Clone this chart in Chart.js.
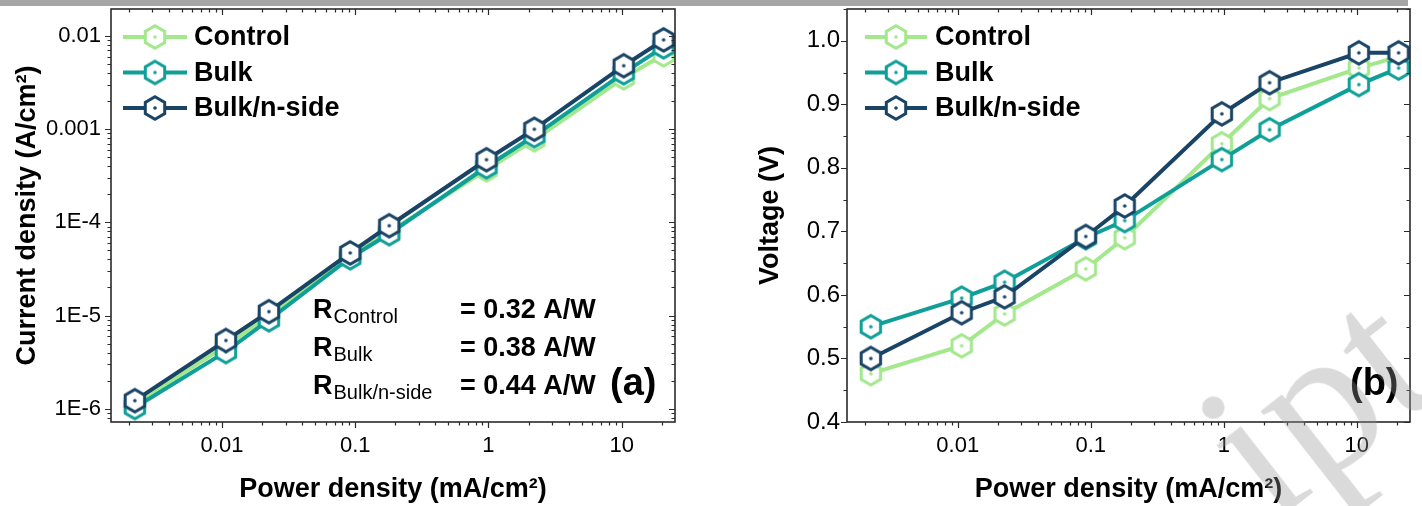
<!DOCTYPE html>
<html>
<head>
<meta charset="utf-8">
<script src="https://cdn.jsdelivr.net/npm/chart.js@4.4.0/dist/chart.umd.min.js"></script>
<style>
  body { margin: 0; background: #fff; width: 1422px; height: 506px; overflow: hidden; position: relative; }
  #bar { position: absolute; left: 0; top: 0; width: 1408px; height: 6px; background: #a6a6a6; }
  .box { position: absolute; top: 0; width: 711px; height: 506px; }
  #wm { position: absolute; left: 1162px; top: 387px; font-family: "Liberation Serif", serif; font-size: 210px;
        color: rgba(150, 150, 150, 0.35); transform: rotate(-38deg); transform-origin: 0 0; white-space: nowrap; line-height: 1; }
</style>
</head>
<body>
<div class="box" style="left:0"><canvas id="currentChart"></canvas></div>
<div class="box" style="left:711px"><canvas id="voltageChart"></canvas></div>
<div id="bar"></div>
<div id="wm">ipt</div>
<script>
const seriesNames = ["Control", "Bulk", "Bulk/n-side"];
const seriesColors = ["#a3e88c", "#0f9f98", "#1a4466"];

// x values (mA/cm2), shared by both panels
const powerDensity = [0.00222, 0.0107, 0.0225, 0.0917, 0.18, 0.966, 2.21, 10.35, 20.6];

// panel (a): current density (A/cm2)
const currentControl = [1.13e-6, 4.74e-6, 9.95e-6, 4.38e-5, 7.9e-5, 3.66e-4, 7.7e-4, 3.56e-3, 6.28e-3];
const currentBulk = [1.03e-6, 4.1e-6, 9.0e-6, 4.17e-5, 7.55e-5, 3.95e-4, 8.5e-4, 4.03e-3, 7.65e-3];
const currentNside = [1.22e-6, 5.4e-6, 1.1e-5, 4.7e-5, 9.2e-5, 4.7e-4, 1.0e-3, 4.8e-3, 9.1e-3];

// panel (b): voltage (V)
const voltageControl = [0.476, 0.52, 0.57, 0.641, 0.69, 0.838, 0.909, 0.957, 0.975];
const voltageBulk = [0.55, 0.595, 0.62, 0.69, 0.717, 0.813, 0.86, 0.931, 0.957];
const voltageNside = [0.5, 0.572, 0.597, 0.692, 0.74, 0.885, 0.934, 0.981, 0.981];

const responsivity = ["0.32", "0.38", "0.44"];

const powerTicks = [0.01, 0.1, 1, 10];
const powerTickText = ["0.01", "0.1", "1", "10"];
const currentTicks = [1e-6, 1e-5, 1e-4, 1e-3, 1e-2];
const currentTickText = ["1E-6", "1E-5", "1E-4", "0.001", "0.01"];
const voltageTicks = [0.4, 0.5, 0.6, 0.7, 0.8, 0.9, 1.0];

const FONT = '"Liberation Sans", Arial, sans-serif';
const AXIS = "#2a2a2a";
Chart.defaults.font.family = FONT;
Chart.defaults.color = "#000";

function hexMarker(color) {
  const c = document.createElement("canvas");
  c.width = 30;
  c.height = 30;
  const g = c.getContext("2d");
  g.beginPath();
  for (let k = 0; k < 6; k++) {
    const ang = -Math.PI / 2 + (k * Math.PI) / 3;
    const px = 15 + 11.2 * Math.cos(ang);
    const py = 15 + 11.2 * Math.sin(ang);
    if (k === 0) g.moveTo(px, py);
    else g.lineTo(px, py);
  }
  g.closePath();
  g.fillStyle = "#fff";
  g.fill();
  g.lineWidth = 3;
  g.strokeStyle = color;
  g.stroke();
  g.beginPath();
  g.arc(15, 15, 1.8, 0, Math.PI * 2);
  g.fillStyle = color;
  g.fill();
  return c;
}

function makeDatasets(values) {
  return values.map((vals, i) => ({
    label: seriesNames[i],
    data: powerDensity.map((p, j) => ({ x: p, y: vals[j] })),
    borderColor: seriesColors[i],
    borderWidth: 4,
    pointStyle: hexMarker(seriesColors[i]),
    pointRadius: 11,
    order: 2 - i,
    clip: false,
  }));
}

function minorValues(scale, step) {
  const out = [];
  if (scale.type === "logarithmic") {
    for (let d = Math.floor(Math.log10(scale.min)); d <= Math.ceil(Math.log10(scale.max)); d++) {
      for (let m = 2; m <= 9; m++) {
        const v = m * Math.pow(10, d);
        if (v >= scale.min && v <= scale.max) out.push(v);
      }
    }
  } else {
    for (let v = scale.min; v <= scale.max + 1e-9; v += step) out.push(v);
  }
  return out;
}

// box frame with outward ticks at bottom/left and mirrored inward ticks at top/right
const framePlugin = {
  id: "frame",
  afterDraw(chart, args, opts) {
    const { ctx, chartArea: a } = chart;
    const x = chart.scales.x;
    const y = chart.scales.y;
    ctx.save();
    ctx.strokeStyle = AXIS;
    ctx.lineWidth = 1.6;
    ctx.strokeRect(a.left, a.top, a.right - a.left, a.bottom - a.top);
    ctx.lineWidth = 1.2;
    const drawX = (vals, len) => {
      vals.forEach((v) => {
        const px = Math.round(x.getPixelForValue(v)) + 0.5;
        ctx.beginPath();
        ctx.moveTo(px, a.bottom);
        ctx.lineTo(px, a.bottom + len);
        ctx.moveTo(px, a.top);
        ctx.lineTo(px, a.top + len);
        ctx.stroke();
      });
    };
    const drawY = (vals, len) => {
      vals.forEach((v) => {
        const py = Math.round(y.getPixelForValue(v)) + 0.5;
        ctx.beginPath();
        ctx.moveTo(a.left - len, py);
        ctx.lineTo(a.left, py);
        ctx.moveTo(a.right - len, py);
        ctx.lineTo(a.right, py);
        ctx.stroke();
      });
    };
    drawX(minorValues(x), 3.5);
    drawX(x.ticks.map((t) => t.value), 6);
    drawY(minorValues(y, opts.yMinor), 3.5);
    drawY(y.ticks.map((t) => t.value), 6);
    ctx.restore();
  },
};

// legend: line + hexagon + bold label, top-left inside the plot
const hexLegend = {
  id: "hexLegend",
  afterDatasetsDraw(chart, args, opts) {
    const { ctx, chartArea: a } = chart;
    ctx.save();
    chart.data.datasets.forEach((ds, i) => {
      const yy = a.top + opts.top + i * opts.step;
      ctx.strokeStyle = ds.borderColor;
      ctx.lineWidth = 4;
      ctx.beginPath();
      ctx.moveTo(a.left + opts.lineStart, yy);
      ctx.lineTo(a.left + opts.lineEnd, yy);
      ctx.stroke();
      const img = ds.pointStyle;
      const cx = a.left + (opts.lineStart + opts.lineEnd) / 2;
      ctx.drawImage(img, cx - img.width / 2, yy - img.height / 2);
      ctx.fillStyle = "#000";
      ctx.font = "bold 27px " + FONT;
      ctx.textBaseline = "middle";
      ctx.fillText(ds.label, a.left + opts.textX, yy + 1);
    });
    ctx.restore();
  },
};

const notesPlugin = {
  id: "notes",
  afterDraw(chart, args, opts) {
    const { ctx, chartArea: a } = chart;
    ctx.save();
    ctx.fillStyle = "#000";
    ctx.textBaseline = "alphabetic";
    if (opts.showR) {
      seriesNames.forEach((name, i) => {
        const base = a.top + 309 + i * 38;
        ctx.font = "bold 27px " + FONT;
        ctx.fillText("R", a.left + 202, base);
        const w = ctx.measureText("R").width;
        ctx.font = "20px " + FONT;
        ctx.fillText(name, a.left + 202 + w + 1, base + 5);
        ctx.font = "bold 27px " + FONT;
        ctx.fillText("= " + responsivity[i] + " A/W", a.left + 349, base);
      });
    }
    ctx.font = "bold 38px " + FONT;
    ctx.fillText(opts.tag, a.left + opts.tagX, a.top + 386);
    ctx.restore();
  },
};

function noPad(s) {
  s.paddingTop = 0;
  s.paddingBottom = 0;
  s.paddingLeft = 0;
  s.paddingRight = 0;
}

function logAxisX() {
  return {
    type: "logarithmic",
    min: 0.00147,
    max: 25.1,
    afterBuildTicks: (s) => { s.ticks = powerTicks.map((v) => ({ value: v })); },
    ticks: { callback: (v, i) => powerTickText[i], font: { size: 22 }, color: "#000", padding: 11, maxRotation: 0, autoSkip: false },
    grid: { display: false, drawTicks: false },
    border: { display: false },
    title: { display: true, text: "Power density (mA/cm²)", font: { size: 27, weight: "bold" }, color: "#000", padding: { top: 0, bottom: 0 } },
    afterFit: (s) => { s.height = 84; noPad(s); },
  };
}

new Chart(document.getElementById("currentChart"), {
  type: "line",
  data: { datasets: makeDatasets([currentControl, currentBulk, currentNside]) },
  options: {
    responsive: true,
    maintainAspectRatio: false,
    animation: false,
    layout: { autoPadding: false, padding: { top: 9, right: 36, left: 0, bottom: 0 } },
    plugins: {
      legend: { display: false },
      tooltip: { enabled: false },
      frame: {},
      hexLegend: { top: 28, step: 35.5, lineStart: 12, lineEnd: 76, textX: 83 },
      notes: { showR: true, tag: "(a)", tagX: 499 },
    },
    scales: {
      x: logAxisX(),
      y: {
        type: "logarithmic",
        min: 7.2e-7,
        max: 0.0195,
        afterBuildTicks: (s) => { s.ticks = currentTicks.map((v) => ({ value: v })); },
        ticks: { callback: (v, i) => currentTickText[i], font: { size: 22 }, color: "#000", padding: 10, autoSkip: false },
        grid: { display: false, drawTicks: false },
        border: { display: false },
        title: { display: true, text: "Current density (A/cm²)", font: { size: 27, weight: "bold" }, color: "#000", padding: { top: 11, bottom: 0 } },
        afterFit: (s) => { s.width = 111; noPad(s); },
      },
    },
  },
  plugins: [framePlugin, hexLegend, notesPlugin],
});

new Chart(document.getElementById("voltageChart"), {
  type: "line",
  data: { datasets: makeDatasets([voltageControl, voltageBulk, voltageNside]) },
  options: {
    responsive: true,
    maintainAspectRatio: false,
    animation: false,
    layout: { autoPadding: false, padding: { top: 9, right: 12, left: 0, bottom: 0 } },
    plugins: {
      legend: { display: false },
      tooltip: { enabled: false },
      frame: { yMinor: 0.05 },
      hexLegend: { top: 28, step: 35.5, lineStart: 18, lineEnd: 80, textX: 88 },
      notes: { showR: false, tag: "(b)", tagX: 503 },
    },
    scales: {
      x: logAxisX(),
      y: {
        type: "linear",
        min: 0.4,
        max: 1.05,
        afterBuildTicks: (s) => { s.ticks = voltageTicks.map((v) => ({ value: v })); },
        ticks: { callback: (v) => v.toFixed(1), font: { size: 24 }, color: "#000", padding: 7, autoSkip: false },
        grid: { display: false, drawTicks: false },
        border: { display: false },
        title: { display: true, text: "Voltage (V)", font: { size: 27, weight: "bold" }, color: "#000", padding: { top: 43, bottom: 0 } },
        afterFit: (s) => { s.width = 136; noPad(s); },
      },
    },
  },
  plugins: [framePlugin, hexLegend, notesPlugin],
});
</script>
</body>
</html>
